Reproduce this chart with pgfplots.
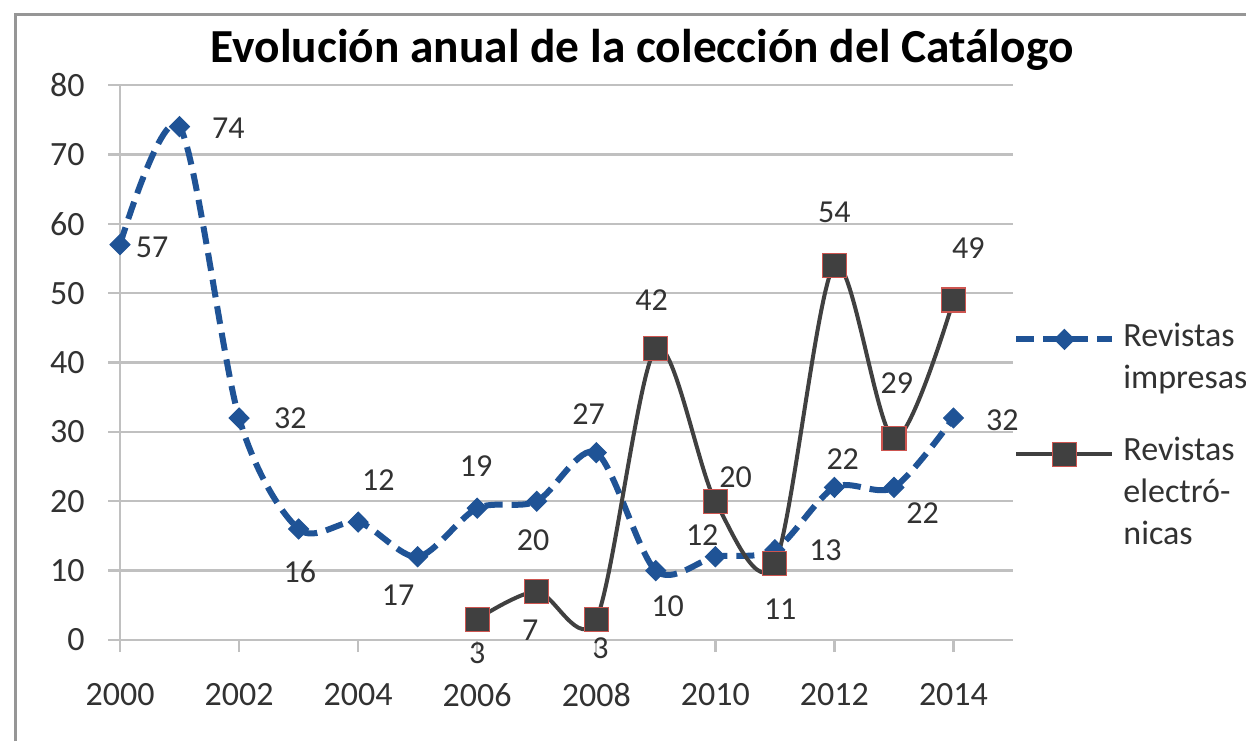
\documentclass[border=0pt]{standalone}
\usepackage{pgfplots}
\pgfplotsset{compat=1.18}
\usepackage{fontspec}
\setmainfont{Carlito}
\definecolor{imp}{RGB}{31,83,150}
\definecolor{elec}{RGB}{64,64,64}
\definecolor{elecedge}{RGB}{205,85,80}
\definecolor{txt}{RGB}{50,50,50}
\definecolor{gridc}{RGB}{192,192,192}
\definecolor{framec}{RGB}{150,150,150}
\tikzset{lbl/.style={font=\fontsize{16}{19}\selectfont, text=txt, inner sep=0pt}}
\begin{document}
\begin{tikzpicture}
\path[use as bounding box] (0,0) rectangle (623pt,370.5pt);
\fill[white] (0,0) rectangle (623pt,370.5pt);
\draw[line width=1.5pt, color=framec] (7.5pt,0) -- (7.5pt,363pt) -- (623pt,363pt);
\node[font=\bfseries\fontsize{23.7}{28}\selectfont, text=black] at (321pt,345.5pt) {Evolución anual de la colección del Catálogo};
\begin{axis}[
 at={(60pt,50.5pt)}, anchor=south west,
 scale only axis, width=446.5pt, height=277.5pt,
 xmin=2000, xmax=2015, ymin=0, ymax=80,
 xtick={2000,2002,...,2014}, ytick={0,10,...,80},
 axis x line*=bottom, axis y line*=left,
 axis line style={draw=gridc, line width=1.2pt, -},
 ymajorgrids, grid style={gridc, line width=1.2pt},
 tick align=outside, major tick length=6pt,
 tick style={gridc, line width=1.2pt},
 /pgf/number format/assume math mode=true,
 /pgf/number format/1000 sep={},
 ticklabel style={font=\fontsize{17}{20}\selectfont, text=txt},
 yticklabel style={inner sep=0pt, xshift=-11.5pt},
 xticklabel style={inner sep=0pt, yshift=-15.5pt},
 clip=false,
 legend style={draw=none, fill=none, inner sep=0pt, at={(1.0,0.573)}, anchor=north west,
   cells={anchor=north west}, column sep=4pt, row sep=24.5pt,
   nodes={align=left, inner sep=0pt, text depth=0pt, font=\fontsize{17}{21}\selectfont, text=txt}},
 legend image code/.code={\draw[mark repeat=2,mark phase=2,#1] plot coordinates {(0pt,-8.5pt) (24pt,-8.5pt) (48pt,-8.5pt)};},
]
\addplot[imp, line width=3pt, dash pattern=on 9pt off 4.5pt, smooth,
  mark=diamond*, mark size=5pt, mark options={solid, fill=imp, draw=imp, line width=0.5pt, xscale=1.33}]
  coordinates {(2000,57) (2001,74) (2002,32) (2003,16) (2004,17) (2005,12) (2006,19) (2007,20) (2008,27) (2009,10) (2010,12) (2011,13) (2012,22) (2013,22) (2014,32)};
\addlegendentry{Revistas\\impresas}
\addplot[elec, line width=2pt, smooth,
  mark=square*, mark size=6pt, mark options={fill=elec, draw=elecedge, line width=0.6pt}]
  coordinates {(2006,3) (2007,7) (2008,3) (2009,42) (2010,20) (2011,11) (2012,54) (2013,29) (2014,49)};
\addlegendentry{Revistas\\electró-\\nicas}
% data labels, series 1
\node[lbl] at (axis cs:2000.54,56.6) {57};
\node[lbl] at (axis cs:2001.82,73.8) {74};
\node[lbl] at (axis cs:2002.86,32.0) {32};
\node[lbl] at (axis cs:2003.02,9.8) {16};
\node[lbl] at (axis cs:2004.34,23.1) {12};
\node[lbl] at (axis cs:2004.67,6.5) {17};
\node[lbl] at (axis cs:2005.98,25.1) {19};
\node[lbl] at (axis cs:2006.94,14.4) {20};
\node[lbl] at (axis cs:2007.87,32.6) {27};
\node[lbl] at (axis cs:2009.20,4.8) {10};
\node[lbl] at (axis cs:2009.78,15.1) {12};
\node[lbl] at (axis cs:2011.85,13.0) {13};
\node[lbl] at (axis cs:2012.14,26.1) {22};
\node[lbl] at (axis cs:2013.48,18.3) {22};
\node[lbl] at (axis cs:2014.82,31.7) {32};
% data labels, series 2
\node[lbl] at (axis cs:2006.00,-1.9) {3};
\node[lbl] at (axis cs:2006.89,1.4) {7};
\node[lbl] at (axis cs:2008.07,-1.2) {3};
\node[lbl] at (axis cs:2008.93,49.0) {42};
\node[lbl] at (axis cs:2010.34,23.4) {20};
\node[lbl] at (axis cs:2011.09,4.5) {11};
\node[lbl] at (axis cs:2012.00,61.7) {54};
\node[lbl] at (axis cs:2013.05,37.0) {29};
\node[lbl] at (axis cs:2014.25,56.5) {49};
\end{axis}
\end{tikzpicture}
\end{document}
